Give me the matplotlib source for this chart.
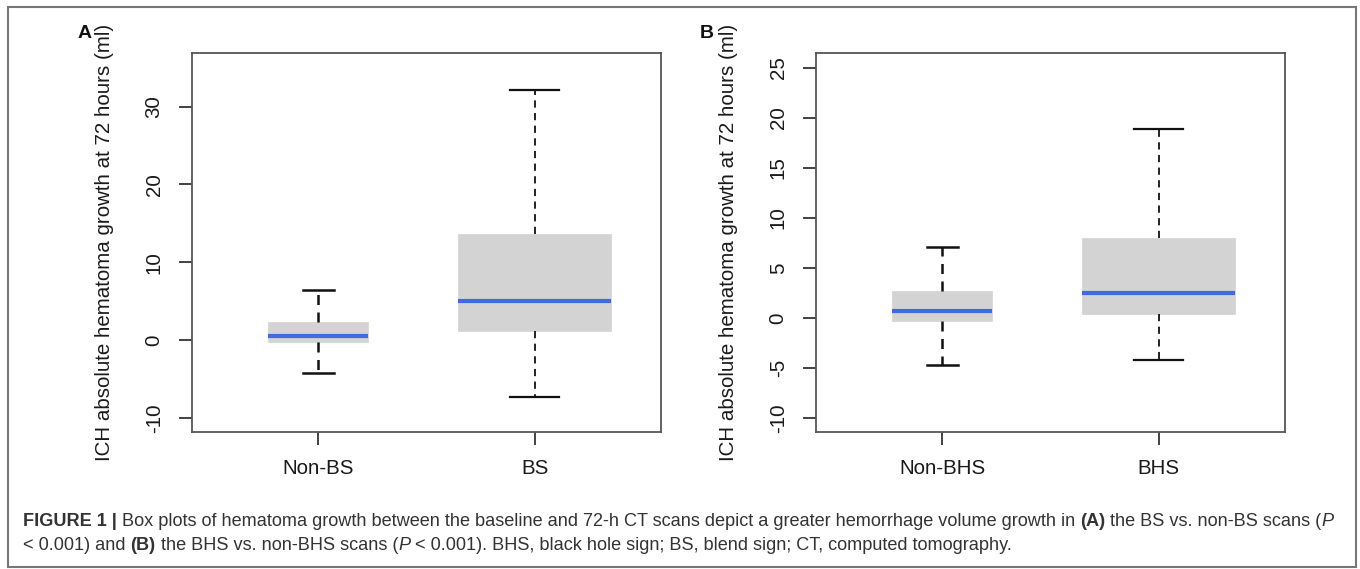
import matplotlib
matplotlib.use("Agg")
import matplotlib.pyplot as plt
from matplotlib.patches import Rectangle

plt.rcParams['font.family'] = ['Liberation Sans', 'DejaVu Sans']

# ---- data ----
cats_a = ["Non-BS", "BS"]
a_whislo = [-4.2, -7.4]
a_q1 = [-0.3, 1.15]
a_med = [0.5, 5.0]
a_q3 = [2.35, 13.6]
a_whishi = [6.4, 32.1]

cats_b = ["Non-BHS", "BHS"]
b_whislo = [-4.7, -4.2]
b_q1 = [-0.27, 0.4]
b_med = [0.7, 2.53]
b_q3 = [2.67, 7.97]
b_whishi = [7.1, 18.9]

yticks_a = [-10, 0, 10, 20, 30]
yticks_b = [-10, -5, 0, 5, 10, 15, 20, 25]
ylabel = "ICH absolute hematoma growth at 72 hours (ml)"

W, H = 1360, 569
fig = plt.figure(figsize=(W / 100, H / 100), dpi=100)
TXT = '#1a1a1a'
FS = 14.8


def px_axes(l, r, t, b):
    return [l / W, 1 - b / H, (r - l) / W, (b - t) / H]


def draw_panel(rect, cats, lo, q1, med, q3, hi, yticks, ylim, letter, letter_x, ylabel_x):
    ax = fig.add_axes(rect)
    stats = []
    for i in range(len(cats)):
        stats.append(dict(label=cats[i], whislo=lo[i], q1=q1[i], med=med[i], q3=q3[i], whishi=hi[i], fliers=[]))
    res = ax.bxp(stats, positions=[1, 2], widths=[0.463, 0.705], capwidths=[0.14, 0.225],
                 patch_artist=True, showfliers=False,
                 boxprops=dict(facecolor='#d3d3d3', edgecolor='#d3d3d3', linewidth=0.5),
                 medianprops=dict(color='#4169e1', linewidth=3.0, solid_capstyle='butt'),
                 whiskerprops=dict(color='#111111', linestyle=(0, (4, 3)), linewidth=1.3),
                 capprops=dict(color='#111111', linewidth=1.6))
    # first box's whiskers appear bolder
    for w in res['whiskers'][:2]:
        w.set_linewidth(1.8)
    for c in res['caps'][:2]:
        c.set_linewidth(1.8)
    ax.set_xlim(0.415, 2.585)
    ax.set_ylim(*ylim)
    ax.set_yticks(yticks)
    ax.set_yticklabels([str(t) for t in yticks])
    ax.set_xticks([1, 2])
    ax.set_xticklabels(cats)
    for s in ax.spines.values():
        s.set_color('#555555')
        s.set_linewidth(1.3)
    ax.tick_params(axis='both', length=9.4, width=1.2, color='#222222', labelsize=FS, labelcolor=TXT)
    ax.tick_params(axis='y', pad=11)
    ax.tick_params(axis='x', pad=10)
    plt.setp(ax.get_yticklabels(), rotation=90, va='center')
    ax.set_ylabel(ylabel, fontsize=FS, color=TXT)
    ax.yaxis.set_label_coords((ylabel_x - rect[0] * W) / (rect[2] * W), 0.5)
    ax.yaxis.label.set_va('center')
    fig.text(letter_x / W, 1 - 33 / H, letter, fontsize=14, fontweight='bold', ha='center', va='center', color='#111111')
    return ax


axA = draw_panel(px_axes(192, 661, 53, 432), cats_a, a_whislo, a_q1, a_med, a_q3, a_whishi,
                 yticks_a, (-11.84, 36.9), 'A', 85, 105)
axB = draw_panel(px_axes(816, 1285, 53, 432), cats_b, b_whislo, b_q1, b_med, b_q3, b_whishi,
                 yticks_b, (-11.42, 26.5), 'B', 707, 729)

# figure frame
fig.patches.append(Rectangle((7.5 / W, 1 - 567 / H), (1356 - 7.5) / W, (567 - 6.5) / H,
                             transform=fig.transFigure, fill=False, edgecolor='#777777', linewidth=1.5))

# caption with mixed styles
line1 = [("FIGURE 1 | ", 'bold', 'normal'),
         ("Box plots of hematoma growth between the baseline and 72-h CT scans depict a greater hemorrhage volume growth in ", 'normal', 'normal'),
         ("(A)", 'bold', 'normal'),
         (" the BS vs. non-BS scans (", 'normal', 'normal'),
         ("P", 'normal', 'italic')]
line2 = [("< 0.001) and ", 'normal', 'normal'),
         ("(B)", 'bold', 'normal'),
         (" the BHS vs. non-BHS scans (", 'normal', 'normal'),
         ("P", 'normal', 'italic'),
         (" < 0.001). BHS, black hole sign; BS, blend sign; CT, computed tomography.", 'normal', 'normal')]

renderer = fig.canvas.get_renderer()
CFS = 13.05


def draw_line(parts, x0, yc):
    x = x0
    for txt, wt, st in parts:
        t = fig.text(x / W, 1 - yc / H, txt, fontsize=CFS, fontweight=wt, fontstyle=st,
                     ha='left', va='center_baseline', color='#333333')
        bb = t.get_window_extent(renderer=renderer)
        x += bb.width


draw_line(line1, 23, 520)
draw_line(line2, 23, 544)

fig.savefig("out.png", dpi=100)
